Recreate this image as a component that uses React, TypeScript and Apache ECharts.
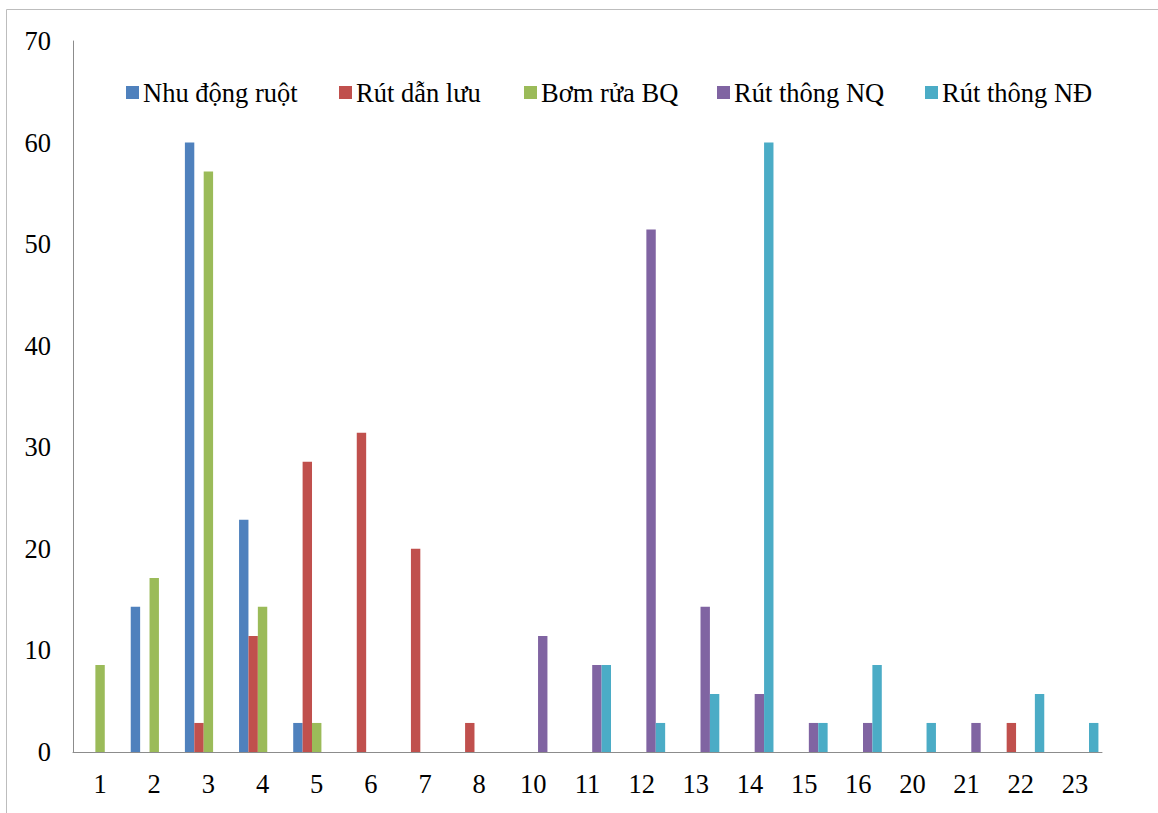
import React, { useEffect, useRef } from "react";
import * as echarts from "echarts";

// Category labels along the x axis
const categories = ["1", "2", "3", "4", "5", "6", "7", "8", "10", "11", "12", "13", "14", "15", "16", "20", "21", "22", "23"];

// Series names
const seriesNames = ["Nhu động ruột", "Rút dẫn lưu", "Bơm rửa BQ", "Rút thông NQ", "Rút thông NĐ"];

// Values per category (percent), null = no bar
const nhuDongRuot = [null, 14.29, 60, 22.86, 2.86, null, null, null, null, null, null, null, null, null, null, null, null, null, null];
const rutDanLuu = [null, null, 2.86, 11.43, 28.57, 31.43, 20, 2.86, null, null, null, null, null, null, null, null, null, 2.86, null];
const bomRuaBQ = [8.57, 17.14, 57.14, 14.29, 2.86, null, null, null, null, null, null, null, null, null, null, null, null, null, null];
const rutThongNQ = [null, null, null, null, null, null, null, null, 11.43, 8.57, 51.43, 14.29, 5.71, 2.86, 2.86, null, 2.86, null, null];
const rutThongND = [null, null, null, null, null, null, null, null, null, 8.57, 2.86, 5.71, 60, 2.86, 8.57, 2.86, null, 5.71, 2.86];

const seriesData = [nhuDongRuot, rutDanLuu, bomRuaBQ, rutThongNQ, rutThongND];
const colors = ["#4F81BD", "#C0504D", "#9BBB59", "#8064A2", "#4BACC6"];

// Legend item left positions
const legendLefts = [126, 339, 524, 717, 925];

const FONT = "'Liberation Serif', 'Times New Roman', serif";

export default function App() {
  const ref = useRef<HTMLDivElement>(null);

  useEffect(() => {
    if (!ref.current) return;
    const chart = echarts.init(ref.current, null, { renderer: "svg" });
    chart.setOption({
      animation: false,
      backgroundColor: "#ffffff",
      color: colors,
      textStyle: { fontFamily: FONT, color: "#000" },
      graphic: [
        {
          type: "rect",
          shape: { x: 6.5, y: 9.5, width: 1300, height: 1000 },
          style: { fill: "none", stroke: "#bdbdbd", lineWidth: 1 },
          silent: true,
        },
      ],
      legend: seriesNames.map((name, i) => ({
        data: [name],
        left: legendLefts[i],
        top: 79,
        itemWidth: 13,
        itemHeight: 13,
        itemGap: 0,
        icon: "rect",
        padding: 0,
        textStyle: { fontFamily: FONT, fontSize: 26.5, color: "#000", padding: [2, 0, 0, -1] },
      })),
      grid: { left: 73, right: 56, top: 41, bottom: 61, containLabel: false },
      xAxis: {
        type: "category",
        data: categories,
        boundaryGap: true,
        axisLine: { lineStyle: { color: "#8c8c8c", width: 1 } },
        axisTick: { show: false },
        axisLabel: { fontFamily: FONT, fontSize: 26.5, color: "#000", margin: 18 },
      },
      yAxis: {
        type: "value",
        min: 0,
        max: 70,
        interval: 10,
        axisLine: { show: true, lineStyle: { color: "#8c8c8c", width: 1 } },
        axisTick: { show: false },
        splitLine: { show: false },
        axisLabel: { fontFamily: FONT, fontSize: 26.5, color: "#000", margin: 22 },
      },
      series: seriesNames.map((name, i) => ({
        name,
        type: "bar",
        data: seriesData[i],
        barWidth: 9.4,
        barGap: "0%",
        itemStyle: { color: colors[i] },
      })),
    });
    return () => chart.dispose();
  }, []);

  return (
    <div
      ref={ref}
      style={{ position: "fixed", left: 0, top: 0, width: 1158, height: 813 }}
    />
  );
}
